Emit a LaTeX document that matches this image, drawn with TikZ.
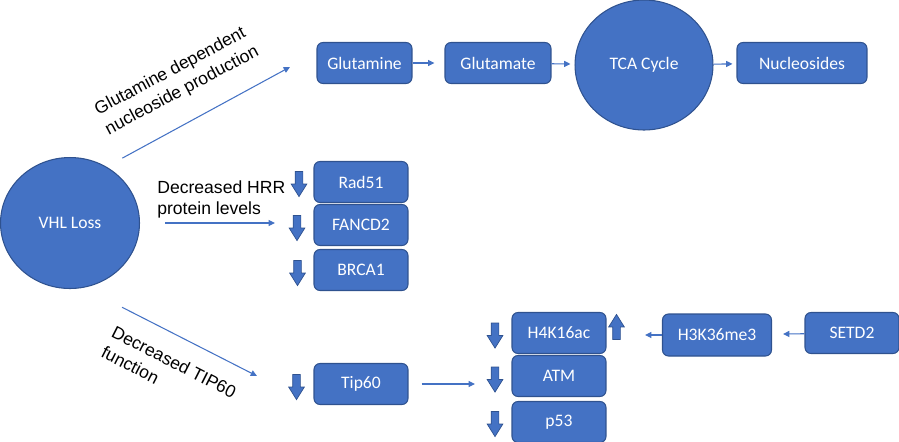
\documentclass[tikz,border=0pt]{standalone}
\usepackage{fontspec}
\setmainfont{Carlito}
\newfontfamily\labelfont{Liberation Sans}
\usepackage{xcolor}
\usetikzlibrary{shapes.geometric,shapes.arrows,arrows.meta}
\definecolor{boxblue}{HTML}{4472C4}
\definecolor{boxedge}{HTML}{2F528F}

\begin{document}
\begin{tikzpicture}[x=0.02cm, y=-0.02cm, font=\fontsize{10}{12}\selectfont]
    % Define styles
    \tikzstyle{box} = [rectangle, rounded corners=0.12cm, draw=boxedge, line width=0.6pt, fill=boxblue, text=white, minimum width=1.88cm, minimum height=0.82cm]
    \tikzstyle{hub} = [ellipse, draw=boxedge, line width=0.6pt, fill=boxblue, text=white, minimum width=2.78cm, minimum height=2.62cm]
    \tikzstyle{conn} = [-{Triangle[length=3.6pt,width=3.4pt]}, boxblue, line width=0.6pt]
    \tikzstyle{fat} = [single arrow, fill=boxblue, draw=boxedge, line width=0.4pt, inner xsep=0pt, inner ysep=0.07cm, minimum height=0.5cm, single arrow head extend=0.08cm, single arrow tip angle=64]
    \tikzstyle{dnarrow} = [fat, rotate=-90]
    \tikzstyle{uparrow} = [fat, rotate=90]
    \tikzstyle{sidetext} = [font=\labelfont\fontsize{10}{12}\selectfont, inner sep=0pt]
    \tikzstyle{slanttext} = [font=\labelfont\fontsize{10}{12.8}\selectfont, inner sep=0pt, align=left]

    \clip (0,0) rectangle (899,441);

    % Glutamine pathway
    \node[box, minimum width=1.9cm] (glutamine) at (364.5,63) {Glutamine};
    \node[box, minimum width=2.12cm] (glutamate) at (498,63) {Glutamate};
    \node[hub, minimum width=2.76cm, minimum height=2.6cm] (tca) at (644,65) {TCA Cycle};
    \node[box, minimum width=2.6cm] (nucleosides) at (802,63) {Nucleosides};

    % VHL loss
    \node[hub] (vhl) at (70,223) {VHL Loss};

    % HRR proteins
    \node[box] (rad) at (361,182) {Rad51};
    \node[box] (fancd) at (361,225) {FANCD2};
    \node[box] (brca) at (361,270) {BRCA1};
    \node[dnarrow] (rad-dn) at (299,181) {};
    \node[dnarrow] (fancd-dn) at (297,225) {};
    \node[dnarrow] (brca-dn) at (297.5,270) {};

    % TIP60 branch
    \node[box] (tip) at (361,384) {Tip60};
    \node[dnarrow] (tip-dn) at (296.5,384) {};
    \node[box] (h4) at (559,333) {H4K16ac};
    \node[box] (atm) at (559,376) {ATM};
    \node[box] (p53) at (559,422) {p53};
    \node[dnarrow] (h4-dn) at (495,332.5) {};
    \node[dnarrow] (atm-dn) at (495,376.5) {};
    \node[dnarrow] (p53-dn) at (495,421) {};
    \node[uparrow] (h4-up) at (616.5,330) {};
    \node[box, minimum width=2.18cm, minimum height=0.84cm] (h3k) at (717,335) {H3K36me3};
    \node[box] (setd) at (852,333) {SETD2};

    % Labels
    \node[slanttext, rotate=28] (glnlabel) at (177,81) {Glutamine dependent\\nucleoside production};
    \node[sidetext, align=left, anchor=west] (hrrlabel) at (157,199) {Decreased HRR\\protein levels};
    \node[slanttext, rotate=-27] (tiplabel) at (169,372) {Decreased TIP60\\function};

    % Arrows
    \coordinate (gln-end) at (290,67);
    \coordinate (hrr-end) at (275,223);
    \coordinate (tip-end) at (257,376);
    \coordinate (atm-end) at (475,384);
    \coordinate (h4-end) at (645,335);
    \draw[conn, shorten <=0.36cm] (vhl.57) -- (gln-end);
    \draw[conn, shorten <=0.5cm] (vhl) -- (hrr-end);
    \draw[conn, shorten <=0.86cm] (vhl.-78) -- (tip-end);
    \draw[conn, shorten >=0.2cm] (glutamine) -- (glutamate);
    \draw[conn, shorten >=0.08cm] (glutamate) -- (tca);
    \draw[conn, shorten >=0.08cm] (tca) -- (nucleosides);
    \draw[conn, shorten <=0.26cm] (tip.east) -- (atm-end);
    \draw[conn] (h3k) -- (h4-end);
    \draw[conn, shorten >=0.22cm] (setd) -- (h3k);
\end{tikzpicture}
\end{document}
